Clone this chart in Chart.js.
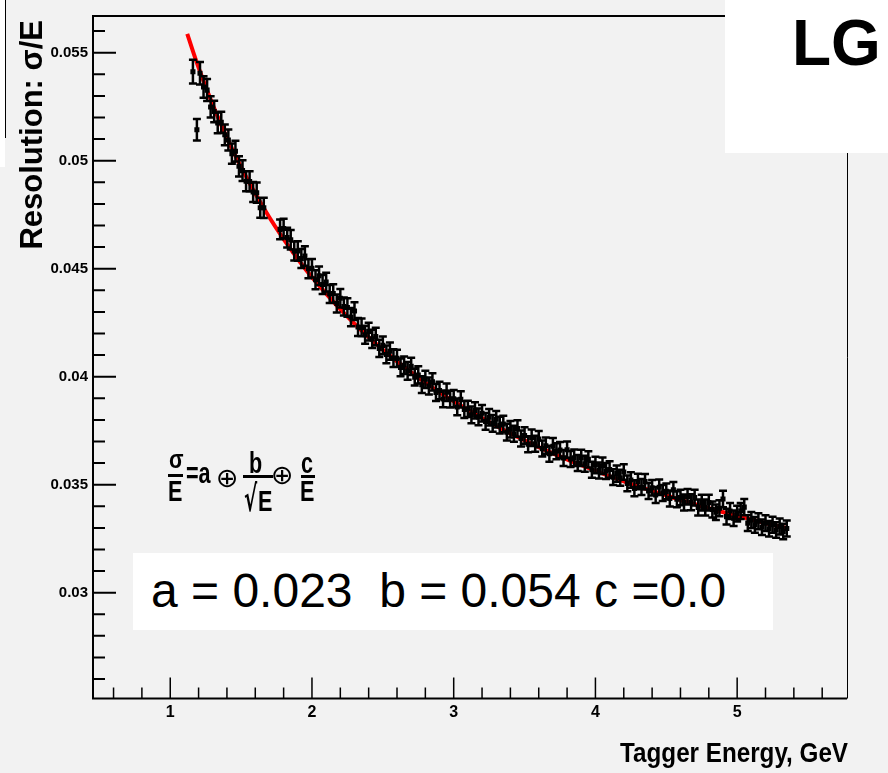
<!DOCTYPE html>
<html>
<head>
<meta charset="utf-8">
<title>LG resolution vs tagger energy</title>
<script src="https://cdn.jsdelivr.net/npm/chart.js@4.4.1/dist/chart.umd.min.js"></script>
<style>
  html, body { margin: 0; padding: 0; background: #f2f2f2; }
  #wrap { position: relative; width: 888px; height: 773px; overflow: hidden; }
  #plot { position: absolute; left: 0; top: 0; }
  .box { position: absolute; background: #fff; }
  .bar { position: absolute; background: #000; }
  .t { position: absolute; line-height: 1; white-space: pre; color: #000;
       font-family: "Liberation Sans", Arial, sans-serif; transform-origin: 0 0; }
  .f { font-weight: bold; font-size: 30px; transform: scaleX(0.72); }
  .op { font-family: "DejaVu Sans", sans-serif; font-size: 27px; }
</style>
</head>
<body>
<div id="wrap">
  <canvas id="plot" width="888" height="773"></canvas>

  <div class="box" style="left:0;top:0;width:5px;height:167px;"></div>
  <div class="bar" style="left:5px;top:0;width:1px;height:138px;"></div>

  <div class="box" style="left:725px;top:0;width:163px;height:153px;"></div>
  <div class="t" style="left:792px;top:10.8px;font-size:64px;font-weight:bold;">LG</div>

  <div class="box" style="left:133px;top:553px;width:640px;height:77px;"></div>
  <div class="t" style="left:151px;top:567.4px;font-size:48px;">a = 0.023  b = 0.054 c =0.0</div>

  <!-- sigma/E = a (+) b/sqrt(E) (+) c/E -->
  <div class="t" style="left:169px;top:446.8px;font-size:25px;font-weight:bold;transform:scaleX(0.85);">σ</div>
  <div class="bar" style="left:168px;top:473.5px;width:15px;height:3px;"></div>
  <div class="t f" style="left:168.4px;top:476.3px;">E</div>
  <div class="t f" style="left:185.7px;top:457.6px;">=a</div>
  <div class="t op" style="left:216px;top:463.9px;">⊕</div>
  <div class="t f" style="left:248.5px;top:447.6px;">b</div>
  <div class="bar" style="left:243px;top:474.5px;width:30px;height:3px;"></div>
  <div class="t" style="left:244px;top:480.5px;font-size:36px;font-family:'DejaVu Sans',sans-serif;font-weight:bold;transform:scaleX(0.55);">√</div>
  <div class="t f" style="left:257.5px;top:486.3px;">E</div>
  <div class="t op" style="left:271px;top:460.7px;">⊕</div>
  <div class="t f" style="left:300.7px;top:447.6px;">c</div>
  <div class="bar" style="left:300.7px;top:474.5px;width:14.3px;height:3px;"></div>
  <div class="t f" style="left:300.1px;top:476.3px;">E</div>
</div>

<script>
// tagger energy (GeV)
const energy = [
  1.160, 1.188, 1.210, 1.235, 1.260, 1.285, 1.310, 1.335, 1.360, 1.385, 1.410, 1.435, 1.460, 1.485, 1.510, 1.535, 1.560, 1.585, 1.610, 1.635, 1.660,
  1.775, 1.800, 1.825, 1.850, 1.875, 1.900, 1.925, 1.950, 1.975, 2.000, 2.025, 2.050, 2.075, 2.100, 2.125, 2.150, 2.175, 2.200, 2.225, 2.250, 2.275, 2.300,
  2.325, 2.350, 2.375, 2.400, 2.425, 2.450, 2.475, 2.500,
  2.525, 2.550, 2.575, 2.600, 2.625, 2.650, 2.675, 2.700, 2.725, 2.750, 2.775, 2.800, 2.825, 2.850, 2.875, 2.900, 2.925, 2.950, 2.975, 3.000, 3.025, 3.050, 3.075, 3.100, 3.125, 3.150, 3.175, 3.200,
  3.225, 3.250, 3.275, 3.300, 3.325, 3.350, 3.375, 3.400, 3.425, 3.450, 3.475, 3.500, 3.525, 3.550, 3.575, 3.600, 3.625, 3.650, 3.675, 3.700,
  3.725, 3.750, 3.775, 3.800, 3.825, 3.850, 3.875, 3.900, 3.925, 3.950, 3.975, 4.000, 4.025, 4.050, 4.075, 4.100, 4.125, 4.150, 4.175, 4.200,
  4.225, 4.250, 4.275, 4.300, 4.325, 4.350, 4.375, 4.400, 4.425, 4.450, 4.475, 4.500, 4.525, 4.550, 4.575, 4.600, 4.625, 4.650, 4.675, 4.700, 4.725, 4.750, 4.775, 4.800,
  4.825, 4.850, 4.875, 4.900, 4.925, 4.950, 4.975, 5.000, 5.025, 5.050, 5.075, 5.100,
  5.125, 5.150, 5.175, 5.200, 5.225, 5.250, 5.275, 5.300, 5.325, 5.350
];

// measured resolution sigma/E
const resolution = [
  0.05412, 0.05143, 0.05405, 0.05341, 0.05327, 0.05249, 0.05228, 0.05175, 0.05178, 0.05120, 0.05096, 0.05033, 0.05044, 0.04974, 0.04954, 0.04905, 0.04904, 0.04855, 0.04852, 0.04782, 0.04782,
  0.04682, 0.04686, 0.04644, 0.04634, 0.04582, 0.04582, 0.04547, 0.04559, 0.04500, 0.04502, 0.04449, 0.04467, 0.04427, 0.04438, 0.04383, 0.04385, 0.04339, 0.04363, 0.04325, 0.04320, 0.04276, 0.04304,
  0.04230, 0.04228, 0.04194, 0.04209, 0.04175, 0.04186, 0.04131, 0.04145,
  0.04103, 0.04118, 0.04086, 0.04085, 0.04043, 0.04053, 0.04027, 0.04048, 0.03998, 0.04008, 0.03963, 0.03988, 0.03957, 0.03976, 0.03927, 0.03936, 0.03897, 0.03928, 0.03896, 0.03898, 0.03860, 0.03895, 0.03848, 0.03851, 0.03823, 0.03844, 0.03814, 0.03831,
  0.03793, 0.03812, 0.03784, 0.03803, 0.03776, 0.03781, 0.03743, 0.03757, 0.03736, 0.03760, 0.03714, 0.03728, 0.03687, 0.03717, 0.03689, 0.03711, 0.03667, 0.03680, 0.03643, 0.03678,
  0.03655, 0.03660, 0.03624, 0.03662, 0.03619, 0.03625, 0.03600, 0.03624, 0.03597, 0.03617, 0.03569, 0.03591, 0.03566, 0.03588, 0.03563, 0.03570, 0.03535, 0.03551, 0.03532, 0.03559,
  0.03506, 0.03522, 0.03483, 0.03515, 0.03489, 0.03514, 0.03471, 0.03486, 0.03452, 0.03488, 0.03462, 0.03469, 0.03436, 0.03476, 0.03433, 0.03441, 0.03418, 0.03444, 0.03419, 0.03440, 0.03394, 0.03417, 0.03394, 0.03417,
  0.03385, 0.03372, 0.03391, 0.03434, 0.03352, 0.03378, 0.03345, 0.03366, 0.03378, 0.03396, 0.03322, 0.03336,
  0.03314, 0.03331, 0.03303, 0.03322, 0.03296, 0.03315, 0.03290, 0.03306, 0.03283, 0.03297
];

// half error bars
const resolutionErr = [
  0.00055, 0.00050, 0.00052, 0.00050, 0.00051, 0.00049, 0.00050, 0.00048, 0.00049, 0.00048, 0.00049, 0.00047, 0.00048, 0.00047, 0.00048, 0.00046, 0.00047, 0.00046, 0.00047, 0.00046, 0.00047,
  0.00046, 0.00045, 0.00046, 0.00045, 0.00044, 0.00045, 0.00044, 0.00045, 0.00044, 0.00043, 0.00044, 0.00043, 0.00044, 0.00043, 0.00042, 0.00043, 0.00042, 0.00043, 0.00042, 0.00043, 0.00042, 0.00041,
  0.00042, 0.00041, 0.00042, 0.00041, 0.00042, 0.00041, 0.00040, 0.00041,
  0.00041, 0.00040, 0.00041, 0.00040, 0.00041, 0.00040, 0.00041, 0.00040, 0.00039, 0.00040, 0.00039, 0.00040, 0.00039, 0.00040, 0.00039, 0.00040, 0.00039, 0.00040, 0.00039, 0.00040, 0.00039, 0.00038, 0.00039, 0.00038, 0.00039, 0.00038, 0.00039, 0.00038,
  0.00039, 0.00038, 0.00039, 0.00038, 0.00039, 0.00038, 0.00039, 0.00038, 0.00037, 0.00038, 0.00037, 0.00038, 0.00037, 0.00038, 0.00037, 0.00038, 0.00037, 0.00038, 0.00037, 0.00038,
  0.00037, 0.00038, 0.00037, 0.00038, 0.00037, 0.00038, 0.00037, 0.00038, 0.00037, 0.00038, 0.00037, 0.00038, 0.00037, 0.00038, 0.00037, 0.00038, 0.00037, 0.00038, 0.00037, 0.00036,
  0.00037, 0.00036, 0.00037, 0.00036, 0.00037, 0.00036, 0.00037, 0.00036, 0.00037, 0.00036, 0.00037, 0.00036, 0.00037, 0.00036, 0.00037, 0.00036, 0.00037, 0.00036, 0.00037, 0.00036, 0.00037, 0.00036, 0.00037, 0.00036,
  0.00037, 0.00036, 0.00037, 0.00038, 0.00036, 0.00037, 0.00036, 0.00037, 0.00037, 0.00038, 0.00036, 0.00037,
  0.00036, 0.00037, 0.00036, 0.00037, 0.00036, 0.00037, 0.00036, 0.00037, 0.00036, 0.00037
];

// fitted curve
const fitEnergy = [1.12, 1.2, 1.3, 1.4, 1.5, 1.6, 1.7, 1.8, 1.9, 2.0, 2.2, 2.4, 2.6, 2.8, 3.0, 3.3, 3.6, 3.9, 4.2, 4.5, 4.8, 5.1, 5.36];
const fitResolution = [0.05587, 0.05431, 0.05259, 0.05106, 0.04970, 0.04848, 0.04737, 0.04637, 0.04545, 0.04461, 0.04312, 0.04183, 0.04071, 0.03973, 0.03886, 0.03772, 0.03674, 0.03590, 0.03515, 0.03450, 0.03391, 0.03339, 0.03297];

const xTicks = [1, 2, 3, 4, 5];
const xTickLabels = ['1', '2', '3', '4', '5'];
const yTicks = [0.03, 0.035, 0.04, 0.045, 0.05, 0.055];
const yTickLabels = ['0.03', '0.035', '0.04', '0.045', '0.05', '0.055'];

const xTitle = 'Tagger Energy, GeV';
const yTitle = 'Resolution: σ/E';

const FONT = '"Liberation Sans", Arial, sans-serif';

// vertical error bars with small caps
const errorBars = {
  id: 'errorBars',
  afterDatasetsDraw(chart) {
    const { ctx, chartArea: a, scales: { x, y } } = chart;
    ctx.save();
    ctx.beginPath();
    ctx.rect(a.left, a.top, a.right - a.left, a.bottom - a.top);
    ctx.clip();
    ctx.strokeStyle = '#000';
    ctx.lineWidth = 2.5;
    ctx.beginPath();
    for (let i = 0; i < energy.length; i++) {
      const px = x.getPixelForValue(energy[i]);
      const lo = y.getPixelForValue(resolution[i] - resolutionErr[i]);
      const hi = y.getPixelForValue(resolution[i] + resolutionErr[i]);
      ctx.moveTo(px, lo); ctx.lineTo(px, hi);
      ctx.moveTo(px - 4, lo); ctx.lineTo(px + 4, lo);
      ctx.moveTo(px - 4, hi); ctx.lineTo(px + 4, hi);
    }
    ctx.stroke();
    ctx.restore();
  }
};

// ROOT style frame: ticks point into the plot, plus axis titles
const frame = {
  id: 'frame',
  afterDraw(chart) {
    const { ctx, chartArea: a, scales: { x, y } } = chart;
    ctx.save();
    ctx.strokeStyle = '#000';

    ctx.lineWidth = 2;
    ctx.beginPath();
    ctx.moveTo(a.right, a.top); ctx.lineTo(a.left, a.top);
    ctx.lineTo(a.left, a.bottom); ctx.lineTo(a.right, a.bottom);
    ctx.stroke();
    ctx.lineWidth = 1;
    ctx.beginPath();
    ctx.moveTo(a.right + 0.5, a.top); ctx.lineTo(a.right + 0.5, a.bottom);
    ctx.stroke();

    ctx.lineWidth = 1.5;
    ctx.beginPath();
    for (let k = 3; k <= 28; k++) {
      const px = x.getPixelForValue(k / 5);
      const len = k % 5 === 0 ? 21 : 11;
      ctx.moveTo(px, a.bottom); ctx.lineTo(px, a.bottom - len);
    }
    ctx.stroke();

    ctx.lineWidth = 2;
    ctx.beginPath();
    for (let k = 26; k <= 56; k++) {
      const py = y.getPixelForValue(k / 1000);
      const len = k % 5 === 0 ? 23 : 12;
      ctx.moveTo(a.left, py); ctx.lineTo(a.left + len, py);
    }
    ctx.stroke();

    ctx.fillStyle = '#000';
    ctx.textBaseline = 'alphabetic';
    ctx.textAlign = 'right';

    ctx.save();
    ctx.font = 'bold 28px ' + FONT;
    ctx.translate(848, 761.7);
    ctx.scale(0.865, 1);
    ctx.fillText(xTitle, 0, 0);
    ctx.restore();

    ctx.save();
    ctx.font = 'bold 31px ' + FONT;
    ctx.translate(42, 20);
    ctx.rotate(-Math.PI / 2);
    ctx.fillText(yTitle, 0, 0);
    ctx.restore();

    ctx.restore();
  }
};

new Chart(document.getElementById('plot'), {
  type: 'scatter',
  data: {
    datasets: [
      {
        label: 'data',
        data: energy.map((e, i) => ({ x: e, y: resolution[i] })),
        pointStyle: 'rect',
        pointRadius: 3.6,
        backgroundColor: '#000',
        borderWidth: 0,
        showLine: false
      },
      {
        type: 'line',
        label: 'fit',
        data: fitEnergy.map((e, i) => ({ x: e, y: fitResolution[i] })),
        borderColor: '#ff0000',
        borderWidth: 4,
        pointRadius: 0,
        tension: 0.4,
        fill: false
      }
    ]
  },
  options: {
    responsive: false,
    animation: false,
    events: [],
    layout: { padding: { left: 0, top: 16, right: 41, bottom: 0 } },
    plugins: { legend: { display: false }, tooltip: { enabled: false } },
    scales: {
      x: {
        type: 'linear',
        min: 0.455,
        max: 5.775,
        afterBuildTicks: s => { s.ticks = xTicks.map(v => ({ value: v })); },
        afterFit: s => { s.height = 74.5; },
        grid: { display: false, drawTicks: false },
        border: { display: false },
        ticks: {
          autoSkip: false,
          maxRotation: 0,
          padding: 4,
          color: '#000',
          font: { family: FONT, size: 16, weight: 'bold' },
          callback: v => xTickLabels[xTicks.indexOf(v)]
        }
      },
      y: {
        type: 'linear',
        min: 0.0251,
        max: 0.0567,
        afterBuildTicks: s => { s.ticks = yTicks.map(v => ({ value: v })); },
        afterFit: s => { s.width = 93; },
        grid: { display: false, drawTicks: false },
        border: { display: false },
        ticks: {
          autoSkip: false,
          padding: 5,
          color: '#000',
          font: { family: FONT, size: 15, weight: 'bold' },
          callback: v => yTickLabels[yTicks.indexOf(v)]
        }
      }
    }
  },
  plugins: [errorBars, frame]
});
</script>
</body>
</html>
